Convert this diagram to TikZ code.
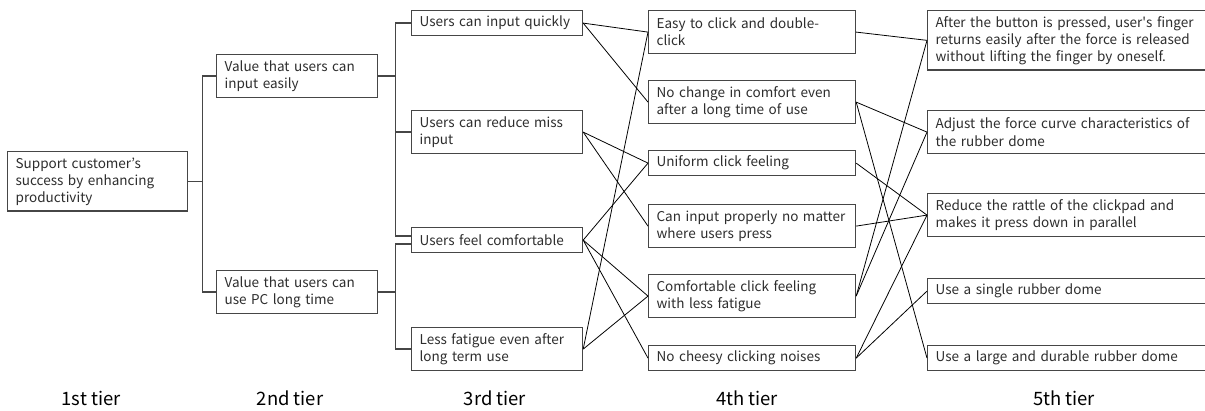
\documentclass[tikz,border=0pt]{standalone}
\usepackage{fontspec}
\setmainfont{Noto Sans CJK JP}
\usepackage{xcolor}
\usetikzlibrary{calc}
\definecolor{boxgray}{RGB}{70, 70, 70}
\definecolor{textgray}{RGB}{45, 45, 45}

\begin{document}
\begin{tikzpicture}[
    x=0.02cm, y=-0.02cm,
    font=\fontsize{7.7}{9.7}\selectfont,
    box/.style={rectangle, draw=boxgray, line width=0.7pt, text=textgray, align=left, anchor=north west, inner xsep=0.16cm, inner ysep=0pt},
    onel/.style={minimum height=0.5cm},
    twol/.style={minimum height=0.86cm},
    threel/.style={minimum height=1.19cm},
    tierone/.style={box, text width=3.28cm},
    tiertwo/.style={box, text width=2.9cm},
    tierthree/.style={box, text width=3.1cm},
    tierfour/.style={box, text width=3.82cm},
    tierfive/.style={box, text width=6cm},
    tree/.style={draw=boxgray, line width=0.7pt},
    link/.style={draw=black, line width=0.45pt},
    tierlabel/.style={font=\fontsize{10.5}{12}\selectfont, text=black}
]
    \useasboundingbox (0,0) rectangle (1205,411);
    \clip (0,0) rectangle (1205,411);

    % 1st and 2nd tier
    \node [tierone, threel] (goal) at (7,151) {Support customer’s\\success by enhancing\\productivity};
    \node [tiertwo, twol] (easy) at (216,54) {Value that users can\\input easily};
    \node [tiertwo, twol] (long) at (216,270) {Value that users can\\use PC long time};

    % 3rd tier
    \node [tierthree, onel] (quick) at (411,10) {Users can input quickly};
    \node [tierthree, twol] (miss) at (411,110) {Users can reduce miss\\input};
    \node [tierthree, onel] (comf) at (411,227) {Users feel comfortable};
    \node [tierthree, twol] (fatig) at (411,327) {Less fatigue even after\\long term use};

    % 4th tier
    \node [tierfour, twol] (dclick) at (648,10) {Easy to click and double-\\click};
    \node [tierfour, twol] (nochg) at (648,80) {No change in comfort even\\after a long time of use};
    \node [tierfour, onel] (unif) at (648,150) {Uniform click feeling};
    \node [tierfour, twol] (where) at (648,204) {Can input properly no matter\\where users press};
    \node [tierfour, twol] (lessf) at (648,274) {Comfortable click feeling\\with less fatigue};
    \node [tierfour, onel] (noise) at (648,345) {No cheesy clicking noises};

    % 5th tier
    \node [tierfive, threel] (finger) at (927,10) {After the button is pressed, user\textquotesingle s finger\\returns easily after the force is released\\without lifting the finger by oneself.};
    \node [tierfive, twol] (curve) at (927,110) {Adjust the force curve characteristics of\\the rubber dome};
    \node [tierfive, twol] (rattle) at (927,193) {Reduce the rattle of the clickpad and\\makes it press down in parallel};
    \node [tierfive, onel] (single) at (927,278) {Use a single rubber dome};
    \node [tierfive, onel] (large) at (927,345) {Use a large and durable rubber dome};

    % tier labels
    \node [tierlabel] (lab1) at (91,398) {1st tier};
    \node [tierlabel] (lab2) at (290,398) {2nd tier};
    \node [tierlabel] (lab3) at (495,398) {3rd tier};
    \node [tierlabel] (lab4) at (747,398) {4th tier};
    \node [tierlabel] (lab5) at (1064,398) {5th tier};

    % tree part
    \coordinate (j1) at ($(goal.east)+(14,0)$);
    \coordinate (j2) at ($(easy.east)+(17,0)$);
    \coordinate (j3) at ($(long.east)+(17,0)$);
    \draw [tree] (goal.east) -- (j1) |- (easy.west);
    \draw [tree] (j1) |- (long.west);
    \draw [tree] (easy.east) -- (j2) |- (quick.west);
    \draw [tree] (j2) |- (miss.west);
    \draw [tree] (j2) |- ([yshift=0.08cm]comf.west);
    \draw [tree] (long.east) -- (j3) |- ([yshift=-0.08cm]comf.west);
    \draw [tree] (j3) |- (fatig.west);

    % 3rd to 4th tier
    \path [link] (quick.east) -- (dclick.west);
    \path [link] (quick.east) -- (nochg.west);
    \path [link] (miss.east) -- (unif.west);
    \path [link] (miss.east) -- (where.west);
    \path [link] (comf.east) -- (unif.west);
    \path [link] (comf.east) -- (lessf.west);
    \path [link] (comf.east) -- (noise.west);
    \path [link] (fatig.east) -- (dclick.west);
    \path [link] (fatig.east) -- (lessf.west);

    % 4th to 5th tier
    \path [link] (dclick.east) -- (finger.west);
    \path [link] (nochg.east) -- (curve.west);
    \path [link] (nochg.east) -- (large.west);
    \path [link] (unif.east) -- (rattle.west);
    \path [link] (where.east) -- (rattle.west);
    \path [link] (lessf.east) -- (finger.west);
    \path [link] (lessf.east) -- (curve.west);
    \path [link] (noise.east) -- (rattle.west);
    \path [link] (noise.east) -- (single.west);

\end{tikzpicture}
\end{document}
